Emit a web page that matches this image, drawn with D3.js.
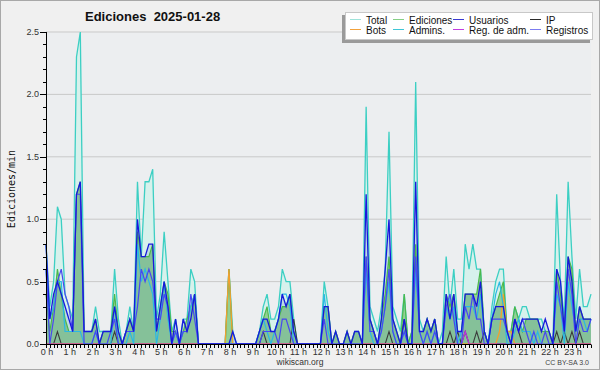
<!DOCTYPE html>
<html>
<head>
<meta charset="utf-8">
<script src="https://cdn.jsdelivr.net/npm/d3@7"></script>
<style>
  body { margin: 0; background: #fff; }
  svg { display: block; }
</style>
</head>
<body>
<script>
// 10-minute steps, values in edits per minute (one array entry per step, 6 per hour)
var hourLabels = d3.range(24).map(h => h + ' h')

var total = [
  0.8, 0.3, 0.5, 1.1, 1.0, 0.4,   0.3, 0.2, 2.3, 2.5, 0.1, 0.1,
  0.1, 0.3, 0.1, 0.1, 0.1, 0.1,   0.6, 0.2, 0.0, 0.1, 0.3, 0.1,
  1.3, 0.7, 1.3, 1.3, 1.4, 0.2,   0.4, 0.9, 0.5, 0.1, 0.2, 0.0,
  0.2, 0.2, 0.6, 0.5, 0.0, 0.0,   0.0, 0.0, 0.0, 0.0, 0.0, 0.0,
  0.6, 0.1, 0.0, 0.0, 0.0, 0.0,   0.0, 0.0, 0.1, 0.3, 0.4, 0.2,
  0.2, 0.3, 0.6, 0.5, 0.5, 0.2,   0.0, 0.0, 0.0, 0.0, 0.0, 0.0,
  0.0, 0.5, 0.3, 0.0, 0.1, 0.0,   0.0, 0.1, 0.0, 0.1, 0.1, 0.0,
  1.9, 0.3, 0.2, 0.1, 0.3, 0.6,   1.7, 0.3, 0.2, 0.1, 0.4, 0.0,
  0.1, 2.1, 0.2, 0.1, 0.2, 0.1,   0.2, 0.0, 0.1, 0.7, 0.3, 0.6,
  0.2, 0.2, 0.8, 0.6, 0.8, 0.6,   0.6, 0.1, 0.0, 0.3, 0.5, 0.6,
  0.6, 0.1, 0.1, 0.3, 0.2, 0.3,   0.3, 0.2, 0.2, 0.2, 0.2, 0.1,
  0.1, 0.0, 1.2, 0.5, 0.2, 1.3,   0.7, 0.2, 0.6, 0.3, 0.3, 0.4
]
var edits = [
  0.4, 0.1, 0.3, 0.6, 0.4, 0.2,   0.1, 0.1, 1.2, 1.3, 0.1, 0.1,
  0.1, 0.2, 0.0, 0.1, 0.1, 0.1,   0.4, 0.1, 0.0, 0.1, 0.2, 0.1,
  0.9, 0.7, 0.7, 0.7, 0.8, 0.1,   0.3, 0.5, 0.4, 0.1, 0.1, 0.0,
  0.1, 0.2, 0.3, 0.4, 0.0, 0.0,   0.0, 0.0, 0.0, 0.0, 0.0, 0.0,
  0.6, 0.0, 0.0, 0.0, 0.0, 0.0,   0.0, 0.0, 0.1, 0.2, 0.3, 0.1,
  0.1, 0.2, 0.3, 0.3, 0.4, 0.1,   0.0, 0.0, 0.0, 0.0, 0.0, 0.0,
  0.0, 0.3, 0.3, 0.0, 0.1, 0.0,   0.0, 0.1, 0.0, 0.1, 0.1, 0.0,
  0.7, 0.2, 0.1, 0.0, 0.2, 0.4,   0.7, 0.2, 0.1, 0.0, 0.4, 0.0,
  0.1, 0.8, 0.1, 0.1, 0.2, 0.1,   0.2, 0.0, 0.0, 0.4, 0.3, 0.4,
  0.1, 0.1, 0.4, 0.4, 0.4, 0.4,   0.6, 0.1, 0.0, 0.2, 0.3, 0.4,
  0.5, 0.1, 0.1, 0.3, 0.2, 0.1,   0.2, 0.2, 0.2, 0.2, 0.1, 0.1,
  0.1, 0.0, 0.6, 0.4, 0.1, 0.7,   0.6, 0.1, 0.3, 0.2, 0.2, 0.2
]
var users = [
  0.6, 0.0, 0.2, 0.5, 0.6, 0.4,   0.3, 0.1, 1.2, 1.2, 0.0, 0.0,
  0.0, 0.1, 0.0, 0.0, 0.0, 0.1,   0.2, 0.0, 0.0, 0.1, 0.1, 0.1,
  0.3, 0.6, 0.5, 0.6, 0.5, 0.2,   0.2, 0.4, 0.3, 0.0, 0.1, 0.0,
  0.1, 0.1, 0.4, 0.2, 0.0, 0.0,   0.0, 0.0, 0.0, 0.0, 0.0, 0.0,
  0.0, 0.0, 0.0, 0.0, 0.0, 0.0,   0.0, 0.0, 0.0, 0.1, 0.1, 0.1,
  0.1, 0.0, 0.2, 0.2, 0.1, 0.0,   0.0, 0.0, 0.0, 0.0, 0.0, 0.0,
  0.0, 0.2, 0.0, 0.0, 0.0, 0.0,   0.0, 0.0, 0.0, 0.0, 0.0, 0.0,
  0.7, 0.1, 0.1, 0.0, 0.1, 0.3,   0.6, 0.1, 0.0, 0.0, 0.1, 0.0,
  0.0, 0.7, 0.1, 0.0, 0.1, 0.0,   0.1, 0.0, 0.0, 0.3, 0.4, 0.2,
  0.0, 0.0, 0.3, 0.2, 0.4, 0.2,   0.2, 0.0, 0.0, 0.2, 0.2, 0.2,
  0.2, 0.1, 0.0, 0.2, 0.1, 0.2,   0.1, 0.0, 0.1, 0.0, 0.0, 0.1,
  0.0, 0.0, 0.5, 0.3, 0.1, 0.6,   0.4, 0.0, 0.2, 0.1, 0.1, 0.2
]
var ip = [
  0.0, 0.0, 0.0, 0.1, 0.0, 0.0,   0.0, 0.0, 0.0, 0.0, 0.0, 0.0,
  0.0, 0.0, 0.0, 0.0, 0.0, 0.0,   0.1, 0.0, 0.0, 0.0, 0.0, 0.0,
  0.0, 0.0, 0.0, 0.0, 0.0, 0.0,   0.0, 0.0, 0.0, 0.0, 0.0, 0.0,
  0.0, 0.0, 0.0, 0.0, 0.0, 0.0,   0.0, 0.0, 0.0, 0.0, 0.0, 0.0,
  0.0, 0.0, 0.0, 0.0, 0.0, 0.0,   0.0, 0.0, 0.0, 0.1, 0.0, 0.0,
  0.0, 0.0, 0.0, 0.0, 0.0, 0.2,   0.0, 0.0, 0.0, 0.0, 0.0, 0.0,
  0.0, 0.0, 0.0, 0.0, 0.0, 0.0,   0.0, 0.0, 0.0, 0.0, 0.0, 0.0,
  0.0, 0.0, 0.0, 0.0, 0.0, 0.0,   0.1, 0.0, 0.0, 0.0, 0.2, 0.0,
  0.0, 0.0, 0.0, 0.0, 0.0, 0.0,   0.0, 0.0, 0.0, 0.0, 0.1, 0.0,
  0.1, 0.0, 0.1, 0.0, 0.0, 0.1,   0.0, 0.1, 0.0, 0.0, 0.0, 0.0,
  0.0, 0.0, 0.0, 0.2, 0.1, 0.0,   0.0, 0.0, 0.0, 0.0, 0.0, 0.0,
  0.0, 0.0, 0.1, 0.0, 0.1, 0.0,   0.1, 0.0, 0.1, 0.0, 0.0, 0.0
]
var bots = [
  0, 0, 0, 0, 0, 0,   0, 0, 0, 0, 0, 0,   0, 0, 0, 0, 0, 0,   0, 0, 0, 0, 0, 0,
  0, 0, 0, 0, 0, 0,   0, 0, 0, 0, 0, 0,   0, 0, 0, 0, 0, 0,   0, 0, 0, 0, 0, 0,
  0.6, 0, 0, 0, 0, 0, 0, 0, 0, 0, 0, 0,   0, 0, 0, 0, 0, 0,   0, 0, 0, 0, 0, 0,
  0, 0, 0, 0, 0, 0,   0, 0, 0, 0, 0, 0,   0, 0, 0, 0, 0, 0,   0, 0, 0, 0, 0, 0,
  0, 0, 0, 0, 0, 0,   0, 0, 0, 0, 0, 0,   0, 0, 0, 0, 0, 0,   0, 0, 0, 0, 0, 0.1,
  0.4, 0.1, 0.1, 0, 0, 0,   0, 0, 0, 0, 0, 0,   0, 0, 0, 0, 0, 0,   0, 0, 0, 0, 0, 0
]
var admins = [
  0.6, 0.2, 0.3, 0.5, 0.5, 0.1,   0.1, 0.1, 0.1, 0.1, 0.0, 0.0,
  0.0, 0.1, 0.0, 0.0, 0.0, 0.0,   0.3, 0.0, 0.0, 0.0, 0.1, 0.0,
  0.8, 0.5, 0.6, 0.5, 0.4, 0.0,   0.2, 0.5, 0.2, 0.0, 0.1, 0.0,
  0.1, 0.1, 0.3, 0.4, 0.0, 0.0,   0.0, 0.0, 0.0, 0.0, 0.0, 0.0,
  0.0, 0.0, 0.0, 0.0, 0.0, 0.0,   0.0, 0.0, 0.1, 0.2, 0.1, 0.0,
  0.1, 0.2, 0.4, 0.4, 0.3, 0.0,   0.0, 0.0, 0.0, 0.0, 0.0, 0.0,
  0.0, 0.4, 0.1, 0.0, 0.0, 0.0,   0.0, 0.0, 0.0, 0.0, 0.0, 0.0,
  0.6, 0.1, 0.0, 0.0, 0.1, 0.3,   0.5, 0.1, 0.0, 0.0, 0.1, 0.0,
  0.0, 0.6, 0.1, 0.0, 0.1, 0.0,   0.1, 0.0, 0.0, 0.3, 0.2, 0.3,
  0.0, 0.1, 0.3, 0.3, 0.3, 0.2,   0.4, 0.1, 0.0, 0.2, 0.4, 0.5,
  0.3, 0.0, 0.0, 0.1, 0.2, 0.1,   0.1, 0.1, 0.0, 0.1, 0.0, 0.0,
  0.0, 0.0, 0.4, 0.3, 0.0, 0.5,   0.3, 0.1, 0.2, 0.2, 0.1, 0.2
]
var adminLogs = [
  0, 0, 0, 0, 0, 0,   0, 0, 0, 0, 0, 0,   0, 0, 0, 0, 0, 0,   0, 0, 0, 0, 0, 0,
  0, 0, 0, 0, 0, 0,   0, 0, 0, 0, 0, 0,   0, 0, 0, 0, 0, 0,   0, 0, 0, 0, 0, 0,
  0, 0, 0, 0, 0, 0,   0, 0, 0, 0, 0, 0,   0, 0, 0, 0, 0, 0,   0, 0, 0, 0, 0, 0,
  0, 0, 0, 0, 0, 0,   0, 0, 0, 0, 0, 0,   0, 0, 0, 0, 0, 0,   0, 0, 0, 0, 0, 0,
  0, 0, 0, 0, 0, 0,   0, 0, 0, 0, 0, 0,   0, 0, 0.1, 0, 0, 0,   0, 0, 0, 0, 0, 0,
  0, 0, 0, 0, 0, 0,   0, 0, 0, 0, 0, 0,   0, 0, 0, 0, 0, 0,   0, 0, 0, 0, 0, 0
]
var logs = [
  0.8, 0.2, 0.4, 0.5, 0.4, 0.3,   0.2, 0.1, 1.2, 1.3, 0.1, 0.1,
  0.1, 0.2, 0.0, 0.1, 0.1, 0.1,   0.3, 0.1, 0.0, 0.1, 0.2, 0.1,
  1.0, 0.7, 0.7, 0.8, 0.8, 0.1,   0.3, 0.5, 0.3, 0.0, 0.2, 0.0,
  0.2, 0.1, 0.2, 0.4, 0.0, 0.0,   0.0, 0.0, 0.0, 0.0, 0.0, 0.0,
  0.0, 0.1, 0.0, 0.0, 0.0, 0.0,   0.0, 0.0, 0.1, 0.2, 0.2, 0.1,
  0.1, 0.2, 0.4, 0.3, 0.4, 0.1,   0.0, 0.0, 0.0, 0.0, 0.0, 0.0,
  0.0, 0.3, 0.3, 0.0, 0.1, 0.0,   0.0, 0.1, 0.0, 0.1, 0.1, 0.0,
  1.2, 0.2, 0.1, 0.0, 0.2, 0.6,   1.0, 0.2, 0.1, 0.0, 0.2, 0.0,
  0.0, 1.3, 0.1, 0.1, 0.2, 0.1,   0.2, 0.0, 0.0, 0.4, 0.2, 0.4,
  0.1, 0.1, 0.4, 0.4, 0.4, 0.3,   0.5, 0.1, 0.0, 0.2, 0.3, 0.3,
  0.3, 0.1, 0.0, 0.2, 0.1, 0.2,   0.2, 0.2, 0.2, 0.2, 0.1, 0.2,
  0.1, 0.0, 0.6, 0.5, 0.1, 0.7,   0.5, 0.1, 0.3, 0.2, 0.2, 0.2
]

var legendNames = ['Total', 'Ediciones', 'Usuarios', 'IP', 'Bots', 'Admins.', 'Reg. de adm.', 'Registros']
var legendColors = ['#9fe3da', '#86cf86', '#3a3ad2', '#2a2a2a', '#f2a23c', '#3fc6d6', '#c23ee0', '#7c7cf0']

var width = 600
var height = 370

var main = d3.select('body')
  .append('svg')
  .attr('width', width)
  .attr('height', height)
  .style('font-family', '"Liberation Sans", Arial, sans-serif')

main.append('rect')
  .attr('x', 0.5).attr('y', 0.5)
  .attr('width', width - 1).attr('height', height - 1)
  .attr('fill', '#f0f0f0')
  .attr('stroke', '#a8a8a8')

var x = d3.scaleLinear().domain([0, total.length - 1]).range([46, 591])
var y = d3.scaleLinear().domain([0, 2.5]).range([344, 32])

main.append('rect')
  .attr('x', 46).attr('y', 32)
  .attr('width', 545).attr('height', 312)
  .attr('fill', '#eceef0')

// grid
main.append('g')
  .selectAll('line')
  .data([0.5, 1, 1.5, 2, 2.5])
  .enter()
  .append('line')
    .attr('x1', 46).attr('x2', 591)
    .attr('y1', _ => y(_)).attr('y2', _ => y(_))
    .attr('stroke', '#c9c9c9')

var area = d3.area().x((_, i) => x(i)).y0(y(0)).y1(_ => y(_))
var line = d3.line().x((_, i) => x(i)).y(_ => y(_))

main.append('path').attr('d', area(total)).attr('fill', '#d7f1ec')
main.append('path').attr('d', area(edits)).attr('fill', '#8fce8f').attr('fill-opacity', 0.95)
main.append('path').attr('d', area(logs)).attr('fill', '#4a7fb0').attr('fill-opacity', 0.18)

var series = [
  { v: total, c: '#3ccfc3', w: 1.3 },
  { v: edits, c: '#4cb84c', w: 1.2 },
  { v: ip, c: '#3c3c3c', w: 1.1 },
  { v: bots, c: '#f0a030', w: 1.3 },
  { v: adminLogs, c: '#c030e0', w: 1.2 },
  { v: admins, c: '#2ab8e4', w: 1.2 },
  { v: users, c: '#4848f0', w: 1.2 },
  { v: logs, c: '#1818dc', w: 1.3 }
]

main.append('g')
  .selectAll('path')
  .data(series)
  .enter()
  .append('path')
    .attr('d', _ => line(_.v))
    .attr('fill', 'none')
    .attr('stroke', _ => _.c)
    .attr('stroke-width', _ => _.w)
    .attr('stroke-linejoin', 'miter')

// y axis
var yAxis = main.append('g').attr('font-size', 9).attr('fill', '#333')
yAxis.append('line')
  .attr('x1', 46.5).attr('x2', 46.5).attr('y1', 32).attr('y2', 344.5)
  .attr('stroke', '#000')
yAxis.selectAll('.minor')
  .data(d3.range(0, 26))
  .enter()
  .append('line')
    .attr('x1', _ => _ % 5 ? 43 : 40).attr('x2', 46.5)
    .attr('y1', _ => Math.round(y(_ / 10)) + 0.5).attr('y2', _ => Math.round(y(_ / 10)) + 0.5)
    .attr('stroke', '#000')
yAxis.selectAll('text')
  .data([0, 0.5, 1, 1.5, 2, 2.5])
  .enter()
  .append('text')
    .attr('x', 39)
    .attr('y', _ => y(_) + 3)
    .attr('text-anchor', 'end')
    .text(_ => d3.format('.1f')(_))

main.append('text')
  .attr('transform', 'translate(15, 189) rotate(-90)')
  .attr('text-anchor', 'middle')
  .attr('font-family', '"DejaVu Sans Mono", monospace')
  .attr('font-size', 10)
  .attr('fill', '#111')
  .text('Ediciones/min')

// x axis
var xAxis = main.append('g').attr('font-size', 9).attr('fill', '#333')
xAxis.append('line')
  .attr('x1', 46).attr('x2', 591).attr('y1', 344.5).attr('y2', 344.5)
  .attr('stroke', '#000')
xAxis.selectAll('line.t')
  .data(d3.range(0, total.length))
  .enter()
  .append('line')
    .attr('x1', _ => Math.round(x(_)) + 0.5).attr('x2', _ => Math.round(x(_)) + 0.5)
    .attr('y1', 344.5).attr('y2', 348)
    .attr('stroke', '#000')
xAxis.selectAll('text')
  .data(hourLabels)
  .enter()
  .append('text')
    .attr('x', (_, i) => x(i * 6) + 1)
    .attr('y', 355)
    .attr('text-anchor', 'middle')
    .text(_ => _)

main.append('text')
  .attr('x', 300).attr('y', 365)
  .attr('text-anchor', 'middle')
  .attr('font-size', 8.5)
  .attr('fill', '#333')
  .text('wikiscan.org')

main.append('text')
  .attr('x', 589).attr('y', 365)
  .attr('text-anchor', 'end')
  .attr('font-size', 7)
  .attr('fill', '#444')
  .text('CC BY-SA 3.0')

main.append('text')
  .attr('x', 85).attr('y', 21)
  .attr('font-size', 13)
  .attr('font-weight', 'bold')
  .attr('fill', '#111')
  .style('white-space', 'pre')
  .text('Ediciones  2025-01-28')

// legend
var legend = main.append('g')
legend.append('rect')
  .attr('x', 342).attr('y', 15).attr('width', 248).attr('height', 28)
  .attr('fill', '#9a9a9a')
legend.append('rect')
  .attr('x', 345.5).attr('y', 12.5).attr('width', 247).attr('height', 27)
  .attr('fill', '#fff')
  .attr('stroke', '#c8c8c8')

var colX = [350, 393, 453, 530]
var items = legend.selectAll('g')
  .data(legendNames)
  .enter()
  .append('g')
    .attr('transform', (_, i) => `translate(${colX[i % 4]}, ${i < 4 ? 19.5 : 29.5})`)

items.append('line')
  .attr('x1', 0).attr('x2', 11)
  .attr('stroke', (_, i) => legendColors[i])
  .attr('stroke-width', 1)

items.append('text')
  .attr('x', 16).attr('y', 4)
  .attr('font-size', 10)
  .attr('fill', '#111')
  .text(_ => _)
</script>
</body>
</html>
